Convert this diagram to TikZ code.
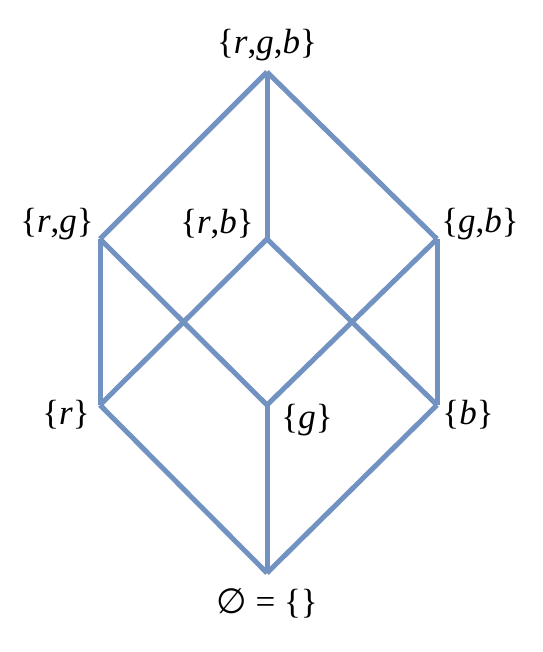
\documentclass[tikz,border=0pt]{standalone}
\usepackage{fontspec}
\setmainfont{Liberation Serif}
\newfontfamily\symfnt{DejaVu Sans}
\begin{document}
\begin{tikzpicture}[x=1pt,y=-1pt,
  edge/.style={draw=lineblue,line width=5pt,line join=miter},
  lbl/.style={inner sep=0pt,font=\fontsize{35}{40}\selectfont}]
\definecolor{lineblue}{RGB}{114,146,194}
\useasboundingbox (0,0) rectangle (542,652);
\coordinate (rgb) at (267,72);
\coordinate (rg) at (100,239);
\coordinate (rb) at (267,239);
\coordinate (gb) at (437,239);
\coordinate (r) at (100,405);
\coordinate (g) at (267,405);
\coordinate (b) at (437,405);
\coordinate (e) at (267,573);
\draw[edge] (rgb) -- (rg);
\draw[edge] (rgb) -- (rb);
\draw[edge] (rgb) -- (gb);
\draw[edge] (rg) -- (r);
\draw[edge] (rg) -- (g);
\draw[edge] (rb) -- (r);
\draw[edge] (rb) -- (b);
\draw[edge] (gb) -- (g);
\draw[edge] (gb) -- (b);
\draw[edge] (r) -- (e);
\draw[edge] (g) -- (e);
\draw[edge] (b) -- (e);
\node[lbl] (Lrgb) at (267,45) {\{\textit{r},\textit{g},\textit{b}\}};
\node[lbl] (Lrg) at (57,224) {\{\textit{r},\textit{g}\}};
\node[lbl] (Lrb) at (217,224) {\{\textit{r},\textit{b}\}};
\node[lbl] (Lgb) at (480,224) {\{\textit{g},\textit{b}\}};
\node[lbl] (Lr) at (66,415) {\{\textit{r}\}};
\node[lbl] (Lg) at (307,420) {\{\textit{g}\}};
\node[lbl] (Lb) at (468,415) {\{\textit{b}\}};
\node[lbl] (Le) at (267,603) {{\symfnt ∅} = \{\}};
\end{tikzpicture}
\end{document}
